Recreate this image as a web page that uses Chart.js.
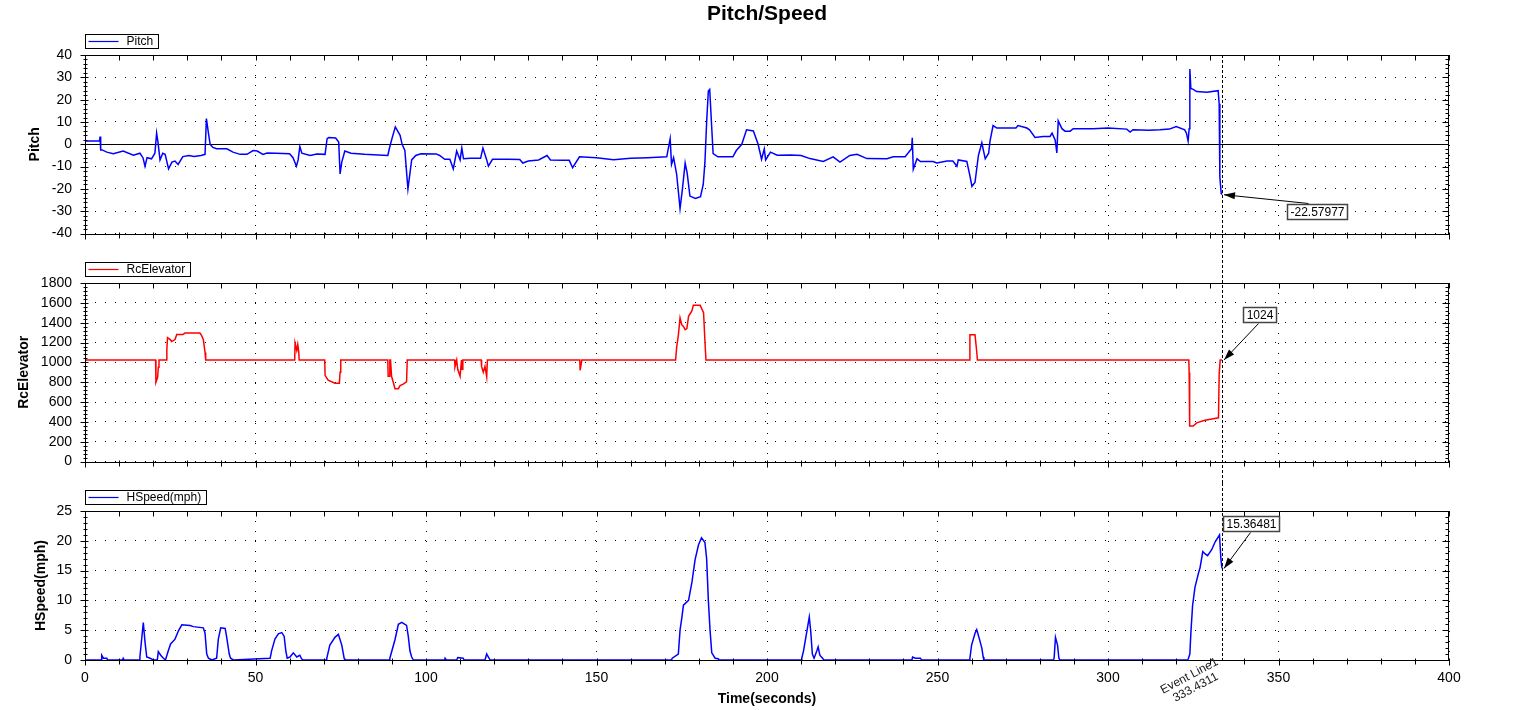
<!DOCTYPE html>
<html>
<head>
<meta charset="utf-8">
<title>Pitch/Speed</title>
<script src="https://cdn.jsdelivr.net/npm/chart.js@4.4.1/dist/chart.umd.min.js"></script>
<style>
  body { margin: 0; background: #fff; }
  #wrap { position: relative; width: 1534px; height: 710px; }
  canvas { position: absolute; left: 0; }
</style>
</head>
<body>
<div id="wrap">
  <canvas id="pitchChart" width="1534" height="255" style="top:0px"></canvas>
  <canvas id="elevChart" width="1534" height="228" style="top:255px"></canvas>
  <canvas id="speedChart" width="1534" height="227" style="top:483px"></canvas>
</div>
<script>
// Chart text
const chartTitle = 'Pitch/Speed';
const timeTitle = 'Time(seconds)';
const eventName = 'Event Line1';
const eventTime = 333.4311;

// Time axis
const timeMin = 0, timeMax = 400, timeStep = 50;

// Pitch series
const pitchTime = [0, 4.3, 4.4, 4.6, 5, 6.4, 8.3, 11.2, 14.2, 16.1, 17, 17.6, 18.2, 19.5, 20.5, 21, 21.4, 22, 22.8, 23.5, 24.5, 25.5, 26.4, 27.3, 28.7, 30.5, 32, 34, 35.2, 35.6, 36.2, 36.7, 37.5, 38.6, 41.6, 43.4, 45.5, 47.5, 49.3, 50.5, 52.2, 53.4, 56, 60, 61, 62, 62.5, 63, 63.6, 66, 68, 70.4, 71, 71.5, 73.5, 74.4, 74.8, 75.3, 76.2, 78, 82, 86, 88.8, 89.4, 90.1, 91, 92.4, 93, 93.8, 94.7, 95.8, 97, 98.5, 103, 104, 105.5, 107, 108, 109, 110, 110.5, 111, 113, 116, 116.7, 117.8, 118.3, 119.5, 124, 127.5, 128.4, 130, 133, 135.5, 136.5, 140, 142, 143, 145, 150, 155, 160, 165, 170.6, 171.6, 172, 172.6, 173.5, 174.5, 175.2, 176, 176.6, 177.4, 179, 180.5, 181.3, 181.8, 182.3, 182.8, 183.2, 183.7, 184.2, 185.6, 190, 191, 192.6, 194, 196, 197.4, 198.4, 199.2, 199.6, 201, 203, 207, 210, 212.6, 216.5, 219.4, 221.4, 224.3, 226.4, 229.3, 235.2, 237, 240.5, 242.4, 242.6, 242.9, 244, 245, 248.7, 249.8, 252.8, 254.5, 255.7, 256.1, 258.6, 259.5, 260.1, 261, 262, 263, 264, 265, 265.4, 266.3, 267.4, 273, 273.6, 276.2, 277, 278.6, 281, 283, 283.6, 284.5, 285, 285.4, 286.5, 287.4, 288.9, 289.8, 295.6, 300, 305.5, 306.5, 307.3, 312, 315.2, 318, 320, 322.5, 323, 323.5, 323.8, 324, 324.3, 325, 326, 329, 332.3, 332.6, 332.8, 333.2, 333.4311];
const pitchValue = [1.5, 1.5, 3.5, -2.5, -2.5, -3.5, -4.2, -3, -4.9, -4, -6, -9.8, -6, -6.5, -4, 5, 1, -7, -4, -4.5, -11, -8, -7.5, -9, -5.5, -5, -5.5, -5, -4.5, 11.5, 5, 0, -1.4, -2, -2, -3.5, -4.5, -4.5, -2.8, -3, -4.5, -3.9, -4, -4.2, -6, -9.8, -7, -1, -4, -5, -4.3, -4.5, 2.5, 3, 2.8, 1, -13.3, -8, -3, -4, -4.5, -4.8, -5, -1, 3, 7.8, 4, 0, -2.8, -20, -7, -5, -4.2, -4.3, -5, -6.7, -6.7, -11, -3, -7, -1.7, -6.5, -6.3, -6.3, -1.7, -7, -9.8, -6.7, -6.7, -6.8, -8.4, -7.5, -7, -5, -7, -7.2, -7.2, -10.5, -5.6, -6, -6.9, -6.3, -6, -5.6, 2.5, -9, -6, -13.3, -28.8, -20, -8.4, -13, -23.2, -24.3, -23.5, -18, -8, 10, 23.9, 24.6, 10, -4.2, -5.6, -5.6, -2.8, 0, 6.5, 6, 0, -6.7, -2.1, -7, -3.5, -4.9, -4.8, -5, -6.4, -7.7, -5.6, -8, -5, -4.5, -6.4, -6.5, -5.6, -5.6, -2, 2.9, -11.2, -6.5, -7.7, -7.7, -8.4, -7.5, -7.5, -9.8, -7, -7.7, -14, -18.9, -17, -5, 0.7, -6.5, -4, 1.4, 8.4, 7.3, 7.3, 8.4, 7.3, 6.5, 3.1, 3.5, 3.5, 5, 2, -3.9, 10.5, 7, 5.9, 5.9, 7, 7, 7.3, 6.8, 5.5, 6.5, 6.3, 6.5, 6.8, 8, 6.5, 5, 1.4, 7, 33.7, 25, 24.6, 23.6, 23.3, 24, 18.2, -14.7, -22, -22.57977];
const pitchTicks = [-40, -30, -20, -10, 0, 10, 20, 30, 40];

// RcElevator series
const elevTime = [0, 20.7, 20.8, 21.3, 21.5, 21.7, 23.9, 24, 24.2, 25, 25.4, 26.4, 26.9, 28.7, 29.3, 33.7, 34.2, 34.7, 35.2, 35.4, 61.5, 61.6, 62.1, 62.4, 62.7, 62.8, 70.3, 70.4, 71.3, 73.3, 74.6, 74.8, 75, 88.8, 88.9, 89.3, 89.4, 89.6, 89.9, 90.4, 90.9, 91.9, 92.4, 93.3, 94.3, 94.5, 108.4, 108.5, 109, 109.3, 110, 110.4, 110.6, 110.8, 116.2, 116.3, 116.8, 117.3, 117.8, 118, 145.1, 145.2, 145.7, 173.2, 173.5, 174, 174.5, 175, 175.5, 176, 176.5, 177, 178, 178.4, 180.4, 181.4, 181.8, 182.1, 259.3, 259.5, 261, 261.5, 261.7, 323.7, 323.8, 323.9, 324, 325, 326, 328.4, 330.9, 332.4, 332.6, 332.9, 333.4311];
const elevValue = [1024, 1024, 800, 850, 950, 1024, 1024, 1130, 1250, 1230, 1210, 1230, 1280, 1280, 1295, 1295, 1270, 1230, 1100, 1024, 1024, 1195, 1120, 1180, 1100, 1024, 1024, 870, 820, 790, 790, 900, 1024, 1024, 860, 860, 1024, 1024, 860, 800, 735, 735, 765, 780, 803, 1024, 1024, 955, 1024, 930, 860, 1024, 930, 1024, 1024, 960, 900, 960, 855, 1024, 1024, 920, 1024, 1024, 1150, 1273, 1448, 1380, 1362, 1330, 1340, 1464, 1521, 1575, 1575, 1500, 1210, 1024, 1024, 1279, 1279, 1110, 1024, 1024, 898, 479, 359, 359, 390, 416, 431, 441, 880, 1024, 1024];
const elevTicks = [0, 200, 400, 600, 800, 1000, 1200, 1400, 1600, 1800];

// HSpeed series
const speedTime = [0, 4.8, 4.9, 5.4, 6.4, 6.6, 11, 11.2, 11.5, 15.9, 16.1, 16.6, 17.1, 17.6, 18.1, 19.1, 20, 21.2, 21.5, 22.2, 23, 23.6, 24.4, 25.1, 26.4, 27.4, 28.4, 30.8, 31.8, 34.7, 35.2, 35.7, 36.2, 37.2, 38.6, 39.1, 39.8, 41.1, 41.5, 42.3, 42.7, 43.5, 54.3, 54.7, 55.7, 56.7, 57.7, 58.4, 58.9, 59.3, 60.1, 61.1, 62.1, 63, 63.5, 64, 70.7, 70.9, 71.8, 73.3, 74.3, 75.3, 76, 76.2, 89.2, 89.4, 90.9, 91.9, 92.9, 94.3, 94.8, 95.3, 95.8, 96.3, 105.5, 105.6, 106, 109, 109.3, 110.9, 111.2, 117.3, 117.8, 118.8, 172, 172.2, 174, 174.5, 175, 175.5, 177, 178, 178.9, 179.9, 180.8, 181.8, 182.3, 182.8, 183.3, 183.8, 184.8, 185.7, 186, 210, 210.2, 210.7, 211.6, 212.4, 212.8, 213.3, 213.8, 214.6, 215, 215.5, 216.3, 216.7, 242.5, 242.7, 243.5, 245, 245.3, 259.3, 259.5, 260, 261, 261.5, 262.3, 263, 263.4, 263.6, 284, 284.2, 284.6, 285.2, 285.6, 285.9, 323.4, 323.6, 324, 324.3, 324.8, 325.5, 326.5, 327, 327.8, 328.5, 329.2, 330.4, 331.4, 332.7, 333.1, 333.4311];
const speedValue = [0, 0, 0.8, 0.3, 0.3, 0, 0, 0.3, 0, 0, 0.5, 3.4, 6.3, 3, 0.5, 0.3, 0, 0, 1.4, 0.8, 0.3, 0, 1.5, 2.7, 3.5, 4.9, 5.9, 5.8, 5.6, 5.4, 4.5, 1, 0.3, 0, 0.3, 3.5, 5.4, 5.3, 4, 1, 0.3, 0, 0.3, 1.5, 3.5, 4.4, 4.6, 4, 1.5, 0.3, 0.5, 1.2, 0.5, 0.8, 0.2, 0, 0, 0.3, 2.5, 3.8, 4.3, 2.5, 0.3, 0, 0, 0.3, 3.4, 6, 6.3, 5.8, 4, 1.5, 0.5, 0, 0, 0.3, 0, 0, 0.4, 0.3, 0, 0, 1, 0, 0, 0.3, 1, 5, 7, 9.2, 10, 13.1, 16.8, 19.3, 20.5, 19.7, 17, 10, 5, 1.2, 0.3, 0.2, 0, 0, 0.3, 1.5, 4.5, 7.2, 5, 1, 0.3, 1.5, 2.2, 0.8, 0.3, 0, 0, 0.5, 0.3, 0.3, 0, 0, 0.3, 2.5, 4.5, 5.1, 3.5, 2, 0.5, 0, 0, 0.3, 3.8, 2.5, 0.3, 0, 0, 0.3, 1, 4.5, 9.1, 12.2, 14.5, 15.5, 18.2, 17.8, 17.5, 18.5, 19.8, 21, 17, 15.36481];
const speedTicks = [0, 5, 10, 15, 20, 25];

// Values shown at the event line
const pitchAtEvent = -22.57977;
const elevAtEvent = 1024;
const speedAtEvent = 15.36481;

const FONT = '"Liberation Sans", Arial, sans-serif';

function crisp(v) { return Math.round(v) + 0.5; }

function makeDecor(o) {
	return {
		id: 'decor',
		beforeDatasetsDraw(chart) {
			if (!o.zeroLine) return;
			const ctx = chart.ctx, a = chart.chartArea;
			const y = crisp(chart.scales.y.getPixelForValue(0));
			ctx.save();
			ctx.strokeStyle = '#000';
			ctx.lineWidth = 1;
			ctx.beginPath();
			ctx.moveTo(a.left, y);
			ctx.lineTo(a.right, y);
			ctx.stroke();
			ctx.restore();
		},
		afterDatasetsDraw(chart) {
			const ctx = chart.ctx, a = chart.chartArea;
			const xs = chart.scales.x, ys = chart.scales.y;
			const L = crisp(a.left), R = crisp(a.right - 1), T = crisp(a.top), B = crisp(a.bottom);
			ctx.save();
			ctx.strokeStyle = '#000';
			ctx.lineWidth = 1;
			ctx.setLineDash([]);
			ctx.strokeRect(L, T, R - L, B - T);

			// x ticks every 10 on top and bottom
			ctx.beginPath();
			for (let t = timeMin; t <= timeMax; t += 10) {
				const x = crisp(xs.getPixelForValue(t));
				ctx.moveTo(x, T);
				ctx.lineTo(x, T + 5);
				const big = t % timeStep === 0;
				ctx.moveTo(x, B - 2);
				ctx.lineTo(x, B + (big ? 5 : 4));
			}
			// y ticks, 5 minor divisions
			const ticks = o.ticks;
			const step = ticks[1] - ticks[0];
			for (let i = 0; i <= (ticks.length - 1) * 5; i++) {
				const v = ticks[0] + i * step / 5;
				const y = crisp(ys.getPixelForValue(v));
				const major = i % 5 === 0;
				ctx.moveTo(L - (major ? 5 : 2), y);
				ctx.lineTo(L + (major ? 3 : 2), y);
				ctx.moveTo(R - (major ? 6 : 3), y);
				ctx.lineTo(R, y);
			}
			ctx.stroke();

			// event line
			const xe = crisp(xs.getPixelForValue(eventTime));
			ctx.setLineDash([3, 2]);
			ctx.beginPath();
			ctx.moveTo(xe, o.lineFrom === 'area' ? a.top : 0);
			ctx.lineTo(xe, o.lineTo === 'area' ? a.bottom : chart.height);
			ctx.stroke();
			ctx.setLineDash([]);

			// legend box
			const label = chart.data.datasets[0].label;
			ctx.font = '12px ' + FONT;
			const tw = ctx.measureText(label).width;
			const lx = L, ly = T - 7 - 14;
			const lw = Math.round(41 + tw + 5);
			ctx.fillStyle = '#fff';
			ctx.fillRect(lx, ly, lw, 14);
			ctx.strokeStyle = '#000';
			ctx.strokeRect(lx, ly, lw, 14);
			ctx.strokeStyle = o.color;
			ctx.lineWidth = 1.2;
			ctx.beginPath();
			ctx.moveTo(lx + 3, ly + 7);
			ctx.lineTo(lx + 33, ly + 7);
			ctx.stroke();
			ctx.lineWidth = 1;
			ctx.fillStyle = '#000';
			ctx.textAlign = 'left';
			ctx.textBaseline = 'middle';
			ctx.fillText(label, lx + 41, ly + 7.5);

			// value marker at the event line
			const px = xs.getPixelForValue(eventTime);
			const py = ys.getPixelForValue(o.mark);
			const text = String(o.mark);
			const bw = Math.round(ctx.measureText(text).width + 6), bh = 15;
			const bx = Math.round(px + o.box.dx) + 0.5, by = Math.round(py + o.box.dy) + 0.5;
			const sx = bx + o.box.ax, sy = o.box.fromTop ? by - 1 : by + bh + 1;
			const tx = px + 2, ty = py;
			ctx.strokeStyle = '#000';
			ctx.beginPath();
			ctx.moveTo(sx, sy);
			ctx.lineTo(tx, ty);
			ctx.stroke();
			const ang = Math.atan2(ty - sy, tx - sx);
			ctx.fillStyle = '#000';
			ctx.beginPath();
			ctx.moveTo(tx, ty);
			ctx.lineTo(tx - 11 * Math.cos(ang) + 3.5 * Math.sin(ang), ty - 11 * Math.sin(ang) - 3.5 * Math.cos(ang));
			ctx.lineTo(tx - 11 * Math.cos(ang) - 3.5 * Math.sin(ang), ty - 11 * Math.sin(ang) + 3.5 * Math.cos(ang));
			ctx.closePath();
			ctx.fill();
			ctx.fillStyle = '#fff';
			ctx.fillRect(bx, by, bw, bh);
			ctx.strokeStyle = '#444';
			ctx.lineWidth = 1.5;
			ctx.strokeRect(bx, by, bw, bh);
			ctx.fillStyle = '#000';
			ctx.textAlign = 'center';
			ctx.fillText(text, bx + bw / 2, by + bh / 2 + 0.5);

			if (o.title) {
				ctx.font = 'bold 21px ' + FONT;
				ctx.textAlign = 'center';
				ctx.textBaseline = 'middle';
				ctx.fillText(chartTitle, 767, 14);
			}
			if (o.eventLabel) {
				ctx.translate(px - 31, a.bottom + 19);
				ctx.rotate(-28 * Math.PI / 180);
				ctx.font = '12px ' + FONT;
				ctx.fillStyle = '#222';
				ctx.textAlign = 'center';
				ctx.textBaseline = 'alphabetic';
				ctx.fillText(eventName, 0, 0);
				ctx.fillText(String(eventTime), 0, 13);
			}
			ctx.restore();
		}
	};
}

function panel(id, o) {
	const gridStyle = { color: '#000', lineWidth: 1, drawTicks: false };
	const tickFont = { family: FONT, size: 14 };
	return new Chart(document.getElementById(id), {
		type: 'line',
		data: {
			datasets: [{
				label: o.label,
				data: o.t.map((x, i) => ({ x: x, y: o.v[i] })),
				borderColor: o.color,
				borderWidth: 1.5,
				pointRadius: 0,
				tension: 0,
				fill: false
			}]
		},
		options: {
			responsive: false,
			animation: false,
			events: [],
			layout: { padding: o.pad },
			plugins: { legend: { display: false }, tooltip: { enabled: false } },
			scales: {
				x: {
					type: 'linear', min: timeMin, max: timeMax,
					afterFit: s => { s.height = o.xh; },
					ticks: { display: o.xLabels, stepSize: timeStep, color: '#000', font: tickFont, padding: 9.5, maxRotation: 0, callback: v => String(v) },
					grid: gridStyle,
					border: { display: false, dash: [1, 9] },
					title: { display: o.xLabels, text: timeTitle, color: '#000', font: { family: FONT, size: 14, weight: 'bold' }, padding: { top: 0, bottom: 2 } }
				},
				y: {
					min: o.ticks[0], max: o.ticks[o.ticks.length - 1],
					afterFit: s => { s.width = 85; },
					ticks: { stepSize: o.ticks[1] - o.ticks[0], color: '#000', font: tickFont, padding: 13, callback: v => String(v) },
					grid: gridStyle,
					border: { display: false, dash: [1, 9] },
					title: { display: true, text: o.label, color: '#000', font: { family: FONT, size: 14, weight: 'bold' }, padding: { top: o.titlePad, bottom: 0 } }
				}
			}
		},
		plugins: [makeDecor(o)]
	});
}

panel('pitchChart', {
	label: 'Pitch', t: pitchTime, v: pitchValue, ticks: pitchTicks, color: '#0000ff',
	pad: { top: 55, bottom: 10, left: 0, right: 85 }, xh: 0, xLabels: false, titlePad: 26.5,
	zeroLine: true, title: true, lineFrom: 'area', lineTo: 'canvas',
	mark: pitchAtEvent, box: { dx: 65, dy: 9.5, ax: 21, fromTop: true }
});

panel('elevChart', {
	label: 'RcElevator', t: elevTime, v: elevValue, ticks: elevTicks, color: '#ff0000',
	pad: { top: 28, bottom: 11, left: 0, right: 85 }, xh: 0, xLabels: false, titlePad: 15.5,
	lineFrom: 'canvas', lineTo: 'canvas',
	mark: elevAtEvent, box: { dx: 21, dy: -52.5, ax: 15, fromTop: false }
});

panel('speedChart', {
	label: 'HSpeed(mph)', t: speedTime, v: speedValue, ticks: speedTicks, color: '#0000ff',
	pad: { top: 28, bottom: 0, left: 0, right: 85 }, xh: 50, xLabels: true, titlePad: 32.5,
	lineFrom: 'canvas', lineTo: 'area', eventLabel: true,
	mark: speedAtEvent, box: { dx: 1, dy: -52.5, ax: 27, fromTop: false }
});
</script>
</body>
</html>
